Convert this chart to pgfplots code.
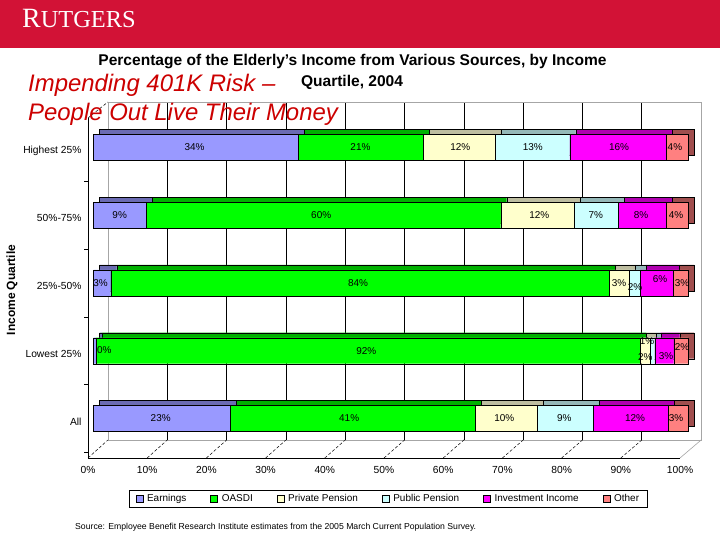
\documentclass[border=0pt]{standalone}
\usepackage{pgfplots}
\pgfplotsset{compat=1.18}
\usepackage{fontspec}
\setmainfont{Liberation Sans}
\newfontfamily\logofont{Liberation Serif}

\definecolor{rutred}{HTML}{D21236}
\definecolor{txtred}{HTML}{CC0000}
\definecolor{earn}{HTML}{9999FF}
\definecolor{earnT}{HTML}{6B6BB3}
\definecolor{oasdi}{HTML}{00FF00}
\definecolor{oasdiT}{HTML}{00B000}
\definecolor{priv}{HTML}{FFFFCC}
\definecolor{privT}{HTML}{BDBDA0}
\definecolor{pub}{HTML}{CCFFFF}
\definecolor{pubT}{HTML}{94B8B8}
\definecolor{inv}{HTML}{FF00FF}
\definecolor{invT}{HTML}{B000B0}
\definecolor{oth}{HTML}{FF8080}
\definecolor{othT}{HTML}{A04E4E}

% widths of the segments (percent)
\pgfplotstableread{
y   earn  oasdi  priv  pub   inv   oth
0   23.0  41.2   10.4  9.4   12.6  3.4
1   0.4   91.6   1.6   0.8   3.2   2.4
2   2.9   83.9   3.3   1.8   5.6   2.5
3   8.8   59.7   12.3  7.4   8.1   3.7
4   34.5  20.9   12.2  12.5  16.3  3.6
}\shares

% where the value labels sit (x in percent, y in rows)
\pgfplotstableread{
x     y     v
17.0  4     34
44.9  4     21
61.7  4     12
73.9  4     13
88.4  4     16
97.8  4     4
4.4   3     9
38.3  3     60
75.0  3     12
84.5  3     7
92.1  3     8
98.0  3     4
1.2   2     3
44.5  2     84
88.4  2     3
91.1  1.94  2
95.3  2.06  6
99.0  2     3
1.8   1.01  0
45.9  1     92
93.1  1.14  1
92.8  0.91  2
96.3  0.92  3
99.0  1.06  2
11.3  0     23
43.0  0     41
69.1  0     10
79.2  0     9
91.1  0     12
98.0  0     3
}\labels

\pgfplotsset{
  geo/.style={scale only axis, anchor=south west, xmin=0, xmax=100, clip=false},
  bargeo/.style={geo, at={(93.5bp,80bp)}, width=594.5bp, height=360bp,
    ymin=-0.6125, ymax=4.701, hide axis, xbar stacked, bar width=26bp},
  seg/.style={fill=#1, draw=black, line width=0.4bp},
}

\begin{document}
\begin{tikzpicture}[x=1bp,y=1bp]
\path[use as bounding box] (0,0) rectangle (720,540);
\fill[white] (0,0) rectangle (720,540);
\fill[rutred] (0,492) rectangle (720,540);
\node[anchor=base west, text=white, inner sep=0] at (22,512)
  {\logofont\fontsize{28}{28}\selectfont R\fontsize{24.5}{24.5}\selectfont UTGERS};

\node[font=\bfseries\fontsize{15.6}{17}\selectfont, inner sep=0] at (352.5,478)
  {Percentage of the Elderly's Income from Various Sources, by Income};
\node[font=\bfseries\fontsize{15.6}{17}\selectfont, inner sep=0] at (352,458)
  {Quartile, 2004};

% back wall with the grid
\begin{axis}[geo, at={(108bp,100bp)}, width=593bp, height=338bp,
  ymin=0, ymax=1, xtick={0,10,...,100}, xticklabels={}, ytick=\empty,
  xmajorgrids, grid style={black, line width=0.6bp}, major tick length=0pt,
  axis line style={gray!70, line width=0.6bp}]
\end{axis}

% floor, left axis, tick labels
\begin{axis}[geo, at={(88bp,82bp)}, width=592bp, height=340bp,
  ymin=-0.583, ymax=4.435,
  axis x line*=bottom, axis y line*=left,
  axis line style={black, line width=0.6bp},
  xtick={0,10,...,100}, xticklabel={\pgfmathprintnumber{\tick}\%},
  xtick style={draw=none},
  ytick={0,...,4},
  yticklabels={All, Lowest 25\%, 25\%-50\%, 50\%-75\%, Highest 25\%},
  ytick style={draw=none},
  extra y ticks={-0.5,0.5,1.5,2.5,3.5},
  extra y tick labels={},
  extra y tick style={ytick style={draw=black, line width=0.6bp}, major tick length=4bp, tick align=outside},
  yticklabel style={yshift=-3bp, xshift=-3bp},
  xticklabel style={yshift=-5bp},
  tick label style={font=\fontsize{10.3}{12}\selectfont},
  /pgf/number format/assume math mode=true,
  unbounded coords=jump]
\addplot[black, densely dashed, line width=0.5bp] coordinates {
 (0,-0.583) (3.38,-0.3165) (nan,nan)
 (10,-0.583) (13.40,-0.3165) (nan,nan)
 (20,-0.583) (23.42,-0.3165) (nan,nan)
 (30,-0.583) (33.44,-0.3165) (nan,nan)
 (40,-0.583) (43.46,-0.3165) (nan,nan)
 (50,-0.583) (53.48,-0.3165) (nan,nan)
 (60,-0.583) (63.50,-0.3165) (nan,nan)
 (70,-0.583) (73.52,-0.3165) (nan,nan)
 (80,-0.583) (83.54,-0.3165) (nan,nan)
 (90,-0.583) (93.56,-0.3165) (nan,nan)
 (0,4.435) (3.38,4.672)
};
\addplot[gray!70, line width=0.6bp] coordinates {(100,-0.583) (103.58,-0.3165)};
\end{axis}

% depth of the bars
\begin{axis}[bargeo]
\addplot[seg=earnT, xshift=6bp, yshift=5bp] table[x=earn, y=y] {\shares};
\addplot[seg=oasdiT, xshift=6bp, yshift=5bp] table[x=oasdi, y=y] {\shares};
\addplot[seg=privT, xshift=6bp, yshift=5bp] table[x=priv, y=y] {\shares};
\addplot[seg=pubT, xshift=6bp, yshift=5bp] table[x=pub, y=y] {\shares};
\addplot[seg=invT, xshift=6bp, yshift=5bp] table[x=inv, y=y] {\shares};
\addplot[seg=othT, xshift=6bp, yshift=5bp] table[x=oth, y=y] {\shares};
\end{axis}

% front faces and legend
\begin{axis}[bargeo,
  legend style={at={(0.496,-0.108)}, anchor=center, legend columns=6,
    draw=black, line width=0.6bp, font=\fontsize{10}{12}\selectfont,
    inner xsep=6bp, inner ysep=2bp,
    /tikz/every odd column/.append style={column sep=2bp},
    /tikz/every even column/.append style={column sep=22bp}},
  legend image code/.code={\draw[#1, draw=black, line width=0.4bp] (0bp,-3.5bp) rectangle (7bp,3.5bp);}]
\addplot[seg=earn] table[x=earn, y=y] {\shares};
\addplot[seg=oasdi] table[x=oasdi, y=y] {\shares};
\addplot[seg=priv] table[x=priv, y=y] {\shares};
\addplot[seg=pub] table[x=pub, y=y] {\shares};
\addplot[seg=inv] table[x=inv, y=y] {\shares};
\addplot[seg=oth] table[x=oth, y=y] {\shares};
\legend{Earnings, OASDI, Private Pension, Public Pension, Investment Income, Other}
\end{axis}

% value labels
\begin{axis}[geo, at={(93.5bp,80bp)}, width=594.5bp, height=360bp,
  ymin=-0.6125, ymax=4.701, hide axis]
\addplot[draw=none, mark=none, nodes near coords={\pgfplotspointmeta\%},
  point meta=explicit symbolic,
  every node near coord/.append style={anchor=center, inner sep=0pt, font=\fontsize{10}{12}\selectfont}]
  table[x=x, y=y, meta=v] {\labels};
\end{axis}

\node[rotate=90, font=\bfseries\fontsize{12}{14}\selectfont, inner sep=0] at (12,250) {Income Quartile};

\node[anchor=base west, text=txtred, font=\itshape\fontsize{24}{26}\selectfont, inner sep=0] at (28,448)
  {Impending 401K Risk --};
\node[anchor=base west, text=txtred, font=\itshape\fontsize{24}{26}\selectfont, inner sep=0] at (28,419)
  {People Out Live Their Money};

\node[anchor=base west, font=\fontsize{8.7}{10}\selectfont, inner sep=0] at (75,10)
  {Source: Employee Benefit Research Institute estimates from the 2005 March Current Population Survey.};
\end{tikzpicture}
\end{document}
